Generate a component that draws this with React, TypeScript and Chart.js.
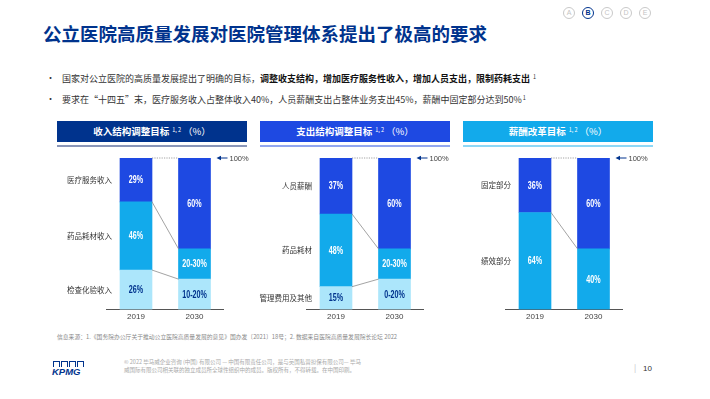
import React, { useEffect, useRef } from "react";
import { Chart, registerables } from "chart.js";
Chart.register(...registerables);

// ---------- data ----------
const years = ["2019", "2030"];

const incomeCats = ["检查化验收入", "药品耗材收入", "医疗服务收入"];
const income2019 = [26, 45, 29];
const income2030 = [20, 20, 60];
const income2019Labels = ["26%", "46%", "29%"];
const income2030Labels = ["10-20%", "20-30%", "60%"];

const expenseCats = ["管理费用及其他", "药品耗材", "人员薪酬"];
const expense2019 = [15, 48, 37];
const expense2030 = [20, 20, 60];
const expense2019Labels = ["15%", "48%", "37%"];
const expense2030Labels = ["0-20%", "20-30%", "60%"];

const salaryCats = ["绩效部分", "固定部分"];
const salary2019 = [64, 36];
const salary2030 = [40, 60];
const salary2019Labels = ["64%", "36%"];
const salary2030Labels = ["40%", "60%"];

const totalLabel = "100%";

// ---------- styles ----------
const LIGHT = "#ACE6FB";
const MID = "#12AAEB";
const DARK = "#1E49E2";
const NAVY = "#00338D";
const CJK = "'Noto Sans CJK SC', sans-serif";
const SANS = "'Liberation Sans', sans-serif";

type PanelProps = {
  left: number;
  cats: string[];
  v2019: number[];
  v2030: number[];
  l2019: string[];
  l2030: string[];
  colors: string[];
  textColors: string[];
};

function Panel({ left, cats, v2019, v2030, l2019, l2030, colors, textColors }: PanelProps) {
  const ref = useRef<HTMLCanvasElement>(null);
  useEffect(() => {
    const canvas = ref.current!;
    const decor = {
      id: "decor",
      afterDraw(chart: any) {
        const ctx = chart.ctx as CanvasRenderingContext2D;
        const n = cats.length;
        const metas = cats.map((_, i) => chart.getDatasetMeta(i));
        const yScale = chart.scales.y;
        ctx.save();
        // connectors between bars
        for (let i = 0; i < n; i++) {
          const a = metas[i].data[0];
          const b = metas[i].data[1];
          const ax = a.x + a.width / 2;
          const bx = b.x - b.width / 2;
          ctx.beginPath();
          if (i === n - 1) {
            ctx.setLineDash([1.2, 1.2]);
            ctx.strokeStyle = "#8a8a8a";
          } else {
            ctx.setLineDash([]);
            ctx.strokeStyle = "#8c8c8c";
          }
          ctx.lineWidth = 0.8;
          ctx.moveTo(ax, a.y);
          ctx.lineTo(bx, b.y);
          ctx.stroke();
        }
        ctx.setLineDash([]);
        // in-bar labels (condensed look)
        ctx.textAlign = "center";
        ctx.textBaseline = "middle";
        ctx.font = `bold 10.5px ${SANS}`;
        for (let i = 0; i < n; i++) {
          const texts = [l2019[i], l2030[i]];
          metas[i].data.forEach((el: any, j: number) => {
            ctx.save();
            ctx.translate(el.x, (el.y + el.base) / 2 + 0.5);
            ctx.scale(0.68, 1);
            ctx.fillStyle = textColors[i];
            ctx.fillText(texts[j], 0, 0);
            ctx.restore();
          });
        }
        // category labels
        ctx.textAlign = "right";
        ctx.textBaseline = "middle";
        ctx.font = `7.5px ${CJK}`;
        ctx.fillStyle = "#333333";
        for (let i = 0; i < n; i++) {
          const el = metas[i].data[0];
          ctx.fillText(cats[i], el.x - el.width / 2 - 8, (el.y + el.base) / 2);
        }
        // 100% arrow
        const top = metas[n - 1].data[1];
        const y = yScale.getPixelForValue(100);
        const x0 = top.x + top.width / 2 + 6;
        ctx.strokeStyle = NAVY;
        ctx.fillStyle = NAVY;
        ctx.lineWidth = 1;
        ctx.beginPath();
        ctx.moveTo(x0 + 3, y);
        ctx.lineTo(x0 + 11, y);
        ctx.stroke();
        ctx.beginPath();
        ctx.moveTo(x0, y);
        ctx.lineTo(x0 + 4.5, y - 2.3);
        ctx.lineTo(x0 + 4.5, y + 2.3);
        ctx.closePath();
        ctx.fill();
        ctx.textAlign = "left";
        ctx.fillStyle = "#444444";
        ctx.font = `7.5px ${SANS}`;
        ctx.fillText(totalLabel, x0 + 13, y + 0.5);
        ctx.restore();
      },
    };
    const chart = new Chart(canvas, {
      type: "bar",
      data: {
        labels: years,
        datasets: cats.map((c, i) => ({
          label: c,
          data: [v2019[i], v2030[i]],
          backgroundColor: colors[i],
          borderWidth: 0,
          barThickness: 32,
        })),
      },
      options: {
        responsive: false,
        animation: false,
        events: [],
        layout: { padding: { left: 56.75, right: 31.25, top: 8, bottom: 0 } },
        plugins: { legend: { display: false }, tooltip: { enabled: false } },
        scales: {
          x: {
            stacked: true,
            grid: { display: false, drawTicks: false },
            border: { display: true, color: "#555555", width: 1 },
            ticks: { color: "#444444", padding: 3, font: { size: 8, family: SANS, weight: "normal" } },
          },
          y: { stacked: true, display: false, min: 0, max: 100 },
        },
      },
      plugins: [decor],
    } as any);
    return () => chart.destroy();
  }, []);
  return (
    <canvas
      ref={ref}
      width={205}
      height={175}
      style={{ position: "absolute", left, top: 150, width: 205, height: 175 }}
    />
  );
}

function Header({ left, bg, line, text }: { left: number; bg: string; line: string; text: string }) {
  return (
    <>
      <div
        style={{
          position: "absolute",
          left,
          top: 121,
          width: 190,
          height: 21,
          background: bg,
          color: "#fff",
          fontWeight: 700,
          fontSize: 9.5,
          lineHeight: "21px",
          textAlign: "center",
          whiteSpace: "nowrap",
        }}
      >
        {text}
        <span style={{ fontSize: 5.5, position: "relative", top: -3, marginLeft: 3, fontWeight: 400 }}>1, 2</span>
        <span style={{ fontWeight: 400, marginLeft: 2 }}>（%）</span>
      </div>
      <div style={{ position: "absolute", left, top: 145, width: 190, height: 1.5, background: line }} />
    </>
  );
}

const circles = ["A", "B", "C", "D", "E"];

export default function App() {
  useEffect(() => {
    document.body.style.margin = "0";
  }, []);
  return (
    <div
      style={{
        position: "relative",
        width: 710,
        height: 399,
        overflow: "hidden",
        background: "#fff",
        fontFamily: CJK,
        color: "#222",
      }}
    >
      <style>{`body{margin:0}`}</style>
      {circles.map((c, i) => (
        <div
          key={c}
          style={{
            position: "absolute",
            left: 563 + i * 19,
            top: 7,
            width: 10,
            height: 10,
            borderRadius: "50%",
            border: c === "B" ? `1.3px solid ${NAVY}` : "0.8px solid #c9c9c9",
            color: c === "B" ? NAVY : "#c4c4c4",
            fontSize: 7,
            fontWeight: c === "B" ? 700 : 400,
            lineHeight: "10px",
            textAlign: "center",
            fontFamily: SANS,
          }}
        >
          {c}
        </div>
      ))}
      <div
        style={{
          position: "absolute",
          left: 43,
          top: 24,
          fontSize: 18.5,
          lineHeight: 1,
          fontWeight: 700,
          color: NAVY,
          whiteSpace: "nowrap",
        }}
      >
        公立医院高质量发展对医院管理体系提出了极高的要求
      </div>
      <div style={{ position: "absolute", left: 46, top: 73, fontSize: 9, lineHeight: 1, color: "#333" }}>•</div>
      <div style={{ position: "absolute", left: 62, top: 73.5, fontSize: 9, lineHeight: 1, color: "#333", whiteSpace: "nowrap" }}>
        国家对公立医院的高质量发展提出了明确的目标，
        <b style={{ color: "#111" }}>调整收支结构，增加医疗服务性收入，增加人员支出，限制药耗支出</b>
        <span style={{ fontSize: 5.5, position: "relative", top: -3, marginLeft: 3 }}>1</span>
      </div>
      <div style={{ position: "absolute", left: 46, top: 94, fontSize: 9, lineHeight: 1, color: "#333" }}>•</div>
      <div style={{ position: "absolute", left: 62, top: 94.5, fontSize: 9, lineHeight: 1, color: "#333", whiteSpace: "nowrap" }}>
        要求在“十四五”末，医疗服务收入占整体收入40%，人员薪酬支出占整体业务支出45%，薪酬中固定部分达到50%
        <span style={{ fontSize: 5.5, position: "relative", top: -3, marginLeft: 1 }}>1</span>
      </div>

      <Header left={57} bg={NAVY} line="#8a96b8" text="收入结构调整目标" />
      <Header left={260} bg={DARK} line="#93a7ef" text="支出结构调整目标" />
      <Header left={463} bg={MID} line="#8fd8f6" text="薪酬改革目标" />

      <Panel
        left={50}
        cats={incomeCats}
        v2019={income2019}
        v2030={income2030}
        l2019={income2019Labels}
        l2030={income2030Labels}
        colors={[LIGHT, MID, DARK]}
        textColors={[NAVY, "#ffffff", "#ffffff"]}
      />
      <Panel
        left={250}
        cats={expenseCats}
        v2019={expense2019}
        v2030={expense2030}
        l2019={expense2019Labels}
        l2030={expense2030Labels}
        colors={[LIGHT, MID, DARK]}
        textColors={[NAVY, "#ffffff", "#ffffff"]}
      />
      <Panel
        left={449}
        cats={salaryCats}
        v2019={salary2019}
        v2030={salary2030}
        l2019={salary2019Labels}
        l2030={salary2030Labels}
        colors={[MID, DARK]}
        textColors={["#ffffff", "#ffffff"]}
      />

      <div style={{ position: "absolute", left: 57, top: 334, fontSize: 5.8, lineHeight: 1, color: "#8a8a8a", whiteSpace: "nowrap" }}>
        信息来源：1.《国务院办公厅关于推动公立医院高质量发展的意见》国办发〔2021〕18号；2. 数据来自医院高质量发展院长论坛 2022
      </div>

      <div style={{ position: "absolute", left: 53, top: 361, display: "flex", gap: 1 }}>
        {[0, 1, 2, 3].map((k) => (
          <div key={k} style={{ width: 7, height: 6, border: `0.8px solid ${NAVY}`, borderBottom: "none", boxSizing: "border-box" }} />
        ))}
      </div>
      <div
        style={{
          position: "absolute",
          left: 52,
          top: 367,
          fontSize: 9.5,
          lineHeight: 1,
          fontWeight: 700,
          fontStyle: "italic",
          color: NAVY,
          fontFamily: SANS,
        }}
      >
        KPMG
      </div>
      <div style={{ position: "absolute", left: 124, top: 359, fontSize: 5.5, lineHeight: "7.5px", color: "#a8a8a8", whiteSpace: "nowrap" }}>
        © 2022 毕马威企业咨询 (中国) 有限公司 — 中国有限责任公司，是与英国私营担保有限公司— 毕马
        <br />
        威国际有限公司相关联的独立成员所全球性组织中的成员。版权所有，不得转载。在中国印刷。
      </div>
      <div style={{ position: "absolute", left: 634, top: 364, fontSize: 8, lineHeight: 1, color: "#c0c0c0" }}>|</div>
      <div
        style={{
          position: "absolute",
          left: 643,
          top: 365,
          fontSize: 8,
          lineHeight: 1,
          color: "#333",
          fontFamily: SANS,
        }}
      >
        10
      </div>
    </div>
  );
}
